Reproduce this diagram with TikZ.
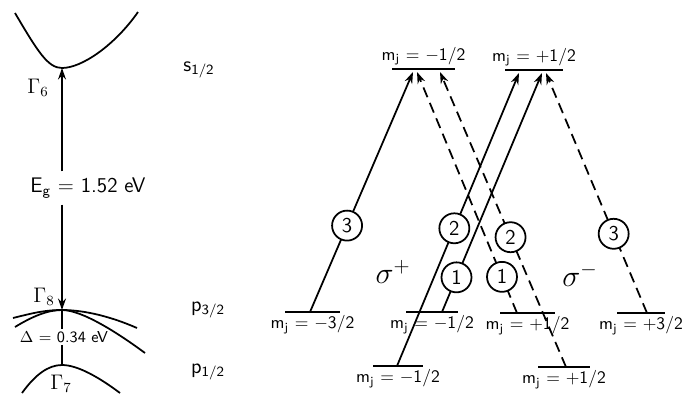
\documentclass[tikz,border=0pt]{standalone}
\usetikzlibrary{calc,arrows.meta,positioning}

\begin{document}
\begin{tikzpicture}[x=0.02cm,y=-0.02cm,
  font=\sffamily,
  band/.style={line width=1pt},
  lvl/.style={line width=1.1pt},
  mjl/.style={font=\sffamily,inner sep=1.5pt},
  pup/.style={line width=1pt,-{Stealth[length=6.5pt,width=4.5pt]}},
  pdn/.style={pup,dash pattern=on 6pt off 3.5pt},
  num/.style={circle,draw,line width=1pt,fill=white,solid,minimum size=0.6cm,inner sep=0pt,font=\sffamily\large}]

\useasboundingbox (0,0) rectangle (690,393);

% ================= BANDS (left) =================
\coordinate (cb) at (62,68);
\coordinate (vb) at (62,310);
\coordinate (so) at (62,365);
\draw[band] (15,13) .. controls (38,52) and (48,68) .. (cb) .. controls (82,68) and (115,45) .. (138,12);
\draw[band] (13,318) .. controls (33,313) and (45,310) .. (vb) .. controls (85,310) and (112,317) .. (137,328);
\draw[band] (15,327) .. controls (33,316) and (48,310) .. (vb) .. controls (82,310) and (118,333) .. (145,353);
\draw[band] (22,393) .. controls (35,375) and (48,365) .. (so) .. controls (78,365) and (100,378) .. (120,393);

\node (eg) at (88,188) {\large E\textsubscript{g} = 1.52 eV};
\draw[pup] (eg.north -| cb) -- (cb);
\draw[pup] (eg.south -| cb) -- (vb);
\node[font=\sffamily\small,inner sep=1pt] (dl) at (64,337) {$\Delta$ = 0.34 eV};
\draw[line width=1pt] (vb) -- (dl.north -| vb);
\draw[line width=1pt] (dl.south -| so) -- (so);

\node (g6) at (38,88) {\large$\Gamma_6$};
\node (g8) at (44,297) {\large$\Gamma_8$};
\node (g7) at (61,384) {\large$\Gamma_7$};

\node (s12) at (199,70) {\large s\textsubscript{1/2}};
\node (p32) at (208,310) {\large p\textsubscript{3/2}};
\node (p12) at (208,372) {\large p\textsubscript{1/2}};

% ================= LEVELS (right) =================
\draw[lvl] (392,69) -- (455,69) node[midway,above,mjl] (ua) {m\textsubscript{j} = $-$1/2};
\draw[lvl] (505,70) -- (563,70) node[midway,above,mjl] (ub) {m\textsubscript{j} = +1/2};
\draw[lvl] (285,312) -- (340,312) node[midway,below,mjl] (ha) {m\textsubscript{j} = $-$3/2};
\draw[lvl] (406,312) -- (458,312) node[midway,below,mjl] (hb) {m\textsubscript{j} = $-$1/2};
\draw[lvl] (500,313) -- (555,313) node[midway,below,mjl] (hc) {m\textsubscript{j} = +1/2};
\draw[lvl] (617,313) -- (665,313) node[midway,below,mjl] (hd) {m\textsubscript{j} = +3/2};
\draw[lvl] (373,366) -- (423,366) node[midway,below,mjl] (la) {m\textsubscript{j} = $-$1/2};
\draw[lvl] (538,367) -- (590,367) node[midway,below,mjl] (lb) {m\textsubscript{j} = +1/2};

% end points of the transitions
\coordinate (a3) at (310,312);  \coordinate (b3) at (413,72);
\coordinate (a2) at (397,366);  \coordinate (b2) at (519,73);
\coordinate (a1) at (442,312);  \coordinate (b1) at (542,73);
\coordinate (c3) at (647,313);  \coordinate (d3) at (546,73);
\coordinate (c2) at (566,367);  \coordinate (d2) at (440,72);
\coordinate (c1) at (517,313);  \coordinate (d1) at (417,72);

% sigma+ (solid)
\draw[pup] (a3) -- node[num,pos=0.36] (n3p) {3} (b3);
\draw[pup] (a2) -- node[num,pos=0.47] (n2p) {2} (b2);
\draw[pup] (a1) -- node[num,pos=0.145] (n1p) {1} (b1);
% sigma- (dashed)
\draw[pdn] (c3) -- node[num,pos=0.33] (n3m) {3} (d3);
\draw[pdn] (c2) -- node[num,pos=0.44] (n2m) {2} (d2);
\draw[pdn] (c1) -- node[num,pos=0.15] (n1m) {1} (d1);

\node (sp) at (393,272) {\LARGE$\sigma^+$};
\node (sm) at (580,275) {\LARGE$\sigma^-$};
\end{tikzpicture}
\end{document}
